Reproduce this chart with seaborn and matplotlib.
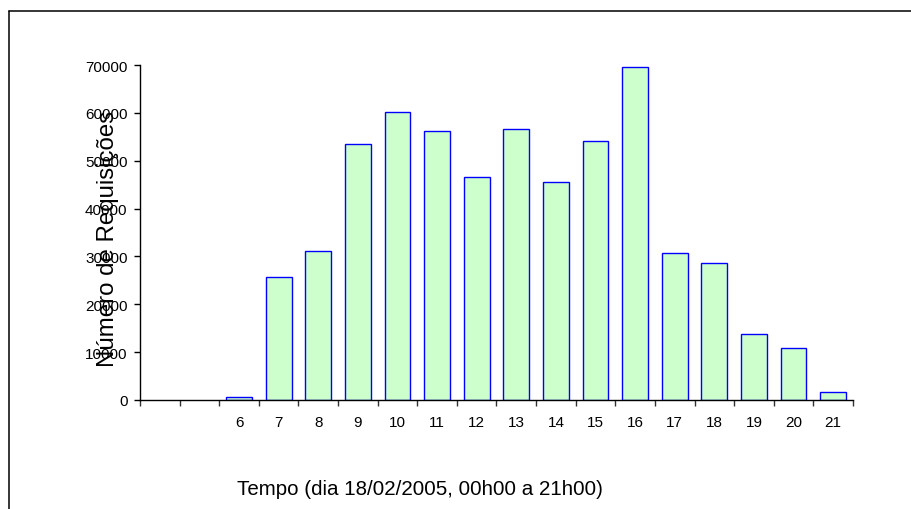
import matplotlib
matplotlib.use("Agg")
import matplotlib.pyplot as plt
from matplotlib.lines import Line2D
from matplotlib.ticker import FixedLocator
import numpy as np
import pandas as pd
import seaborn as sns

# ---- data ----
slots = ["s1", "s2", "6", "7", "8", "9", "10", "11", "12", "13", "14",
         "15", "16", "17", "18", "19", "20", "21"]
tick_labels = ["", "", "6", "7", "8", "9", "10", "11", "12", "13", "14",
               "15", "16", "17", "18", "19", "20", "21"]
horas = ["6", "7", "8", "9", "10", "11", "12", "13", "14",
         "15", "16", "17", "18", "19", "20", "21"]
requisicoes = [560, 25800, 31100, 53500, 60100, 56300, 46500, 56600, 45600,
               54200, 69600, 30800, 28600, 13800, 10800, 1600]
y_ticks = [0, 10000, 20000, 30000, 40000, 50000, 60000, 70000]

df = pd.DataFrame({"hora": horas, "req": requisicoes})

sns.set_theme(style="white")
plt.rcParams["font.family"] = ["Liberation Sans", "DejaVu Sans"]

fig = plt.figure(figsize=(9.12, 5.10), dpi=100)
ax = fig.add_axes([140/912, 1 - 401/510, (853 - 140)/912, (401 - 66)/510])

sns.barplot(data=df, x="hora", y="req", order=slots, ax=ax,
            color="#CCFFCC", saturation=1, edgecolor="#0000FF",
            linewidth=1.0, width=0.65, errorbar=None)

ax.set_xlim(-0.5, len(slots) - 0.5)
ax.set_ylim(0, 70000)
ax.set_yticks(y_ticks)
ax.set_yticklabels([str(v) for v in y_ticks])
ax.set_xticks(range(len(slots)))
ax.set_xticklabels(tick_labels)
ax.xaxis.set_minor_locator(FixedLocator(np.arange(len(slots) + 1) - 0.5))

ax.tick_params(axis="y", which="major", direction="out", length=4, width=1,
               color="black", labelsize=11, pad=5, labelcolor="black", left=True)
ax.tick_params(axis="x", which="major", length=0, labelsize=11, pad=11,
               labelcolor="black")
ax.tick_params(axis="x", which="minor", direction="out", length=4, width=1,
               color="#333333", bottom=True)

for s in ["top", "right"]:
    ax.spines[s].set_visible(False)
for s in ["left", "bottom"]:
    ax.spines[s].set_visible(True)
    ax.spines[s].set_color("black")
    ax.spines[s].set_linewidth(1.0)

ax.set_xlabel("")
ax.set_ylabel("")
fig.text(108/912, 1 - 238.7/510, "Número de Requisições", rotation=90,
         ha="center", va="center", fontsize=17.3, color="black")
fig.text(419.5/912, 1 - 490/510, "Tempo (dia 18/02/2005, 00h00 a 21h00)",
         ha="center", va="center", fontsize=14.8, color="black")

# outer frame (top and left visible)
fig.add_artist(Line2D([9/912, 9/912], [0, 1 - 12/510], color="black",
                      linewidth=1.1, transform=fig.transFigure))
fig.add_artist(Line2D([9/912, 1.0], [1 - 12/510, 1 - 12/510], color="black",
                      linewidth=1.1, transform=fig.transFigure))

fig.savefig("out.png", dpi=100, facecolor="white")
